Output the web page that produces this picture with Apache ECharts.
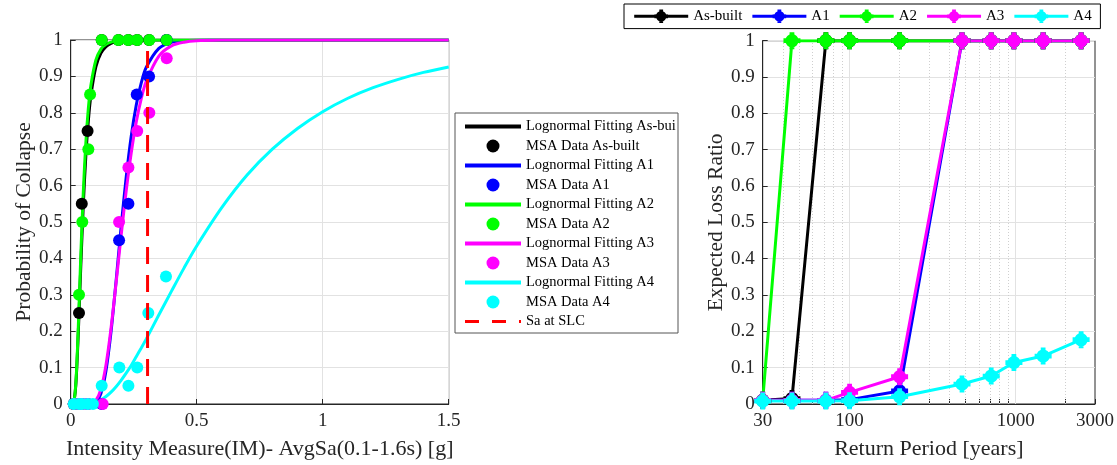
<!DOCTYPE html>
<html>
<head>
<meta charset="utf-8">
<script src="https://cdn.jsdelivr.net/npm/echarts@6/dist/echarts.min.js"></script>
<style>
  html, body { margin: 0; padding: 0; background: #fff; }
  #chart { width: 1117px; height: 465px; }
</style>
</head>
<body>
<div id="chart"></div>
<script>
// ---- Fragility curves (left panel) ----
const fitIM = [0, 0.01, 0.02, 0.03, 0.04, 0.05, 0.06, 0.07, 0.08, 0.1, 0.12, 0.14, 0.16, 0.18, 0.2,
  0.22, 0.24, 0.26, 0.28, 0.3, 0.35, 0.4, 0.45, 0.5, 0.6, 0.7, 0.8, 0.9, 1.0, 1.1, 1.2, 1.3, 1.4, 1.5];
const fitAsBuilt = [0, 0.0015, 0.050, 0.194, 0.378, 0.547, 0.681, 0.778, 0.847, 0.927, 0.964, 0.982, 0.991, 0.995, 0.9973,
  0.9985, 0.9992, 0.9995, 0.9997, 0.9998, 1, 1, 1, 1, 1, 1, 1, 1, 1, 1, 1, 1, 1, 1];
const fitA1 = [0, 0, 0, 0, 0, 0, 0, 0.0001, 0.0004, 0.0053, 0.029, 0.091, 0.198, 0.337, 0.486,
  0.622, 0.735, 0.821, 0.882, 0.925, 0.977, 0.9935, 0.9982, 0.9995, 1, 1, 1, 1, 1, 1, 1, 1, 1, 1];
const fitA2 = [0, 0.001, 0.053, 0.209, 0.407, 0.583, 0.717, 0.812, 0.875, 0.945, 0.975, 0.988, 0.994, 0.997, 0.9986,
  0.999, 0.9996, 1, 1, 1, 1, 1, 1, 1, 1, 1, 1, 1, 1, 1, 1, 1, 1, 1];
const fitA3 = [0, 0, 0, 0, 0, 0, 0, 0.0003, 0.0011, 0.0099, 0.041, 0.107, 0.208, 0.332, 0.462,
  0.584, 0.689, 0.774, 0.839, 0.887, 0.956, 0.984, 0.994, 0.9979, 0.9997, 1, 1, 1, 1, 1, 1, 1, 1, 1];
const fitA4 = [0, 0, 0, 0, 0, 0.0002, 0.0005, 0.0011, 0.0021, 0.0057, 0.0118, 0.0208, 0.0327, 0.0476, 0.065,
  0.0848, 0.106, 0.130, 0.154, 0.179, 0.245, 0.310, 0.374, 0.434, 0.540, 0.629, 0.700, 0.757, 0.803, 0.840, 0.869, 0.892, 0.911, 0.926];

// MSA results: intensity level and fraction of collapses
const msaImAsBuilt = [0.012, 0.033, 0.044, 0.067, 0.123, 0.19, 0.229, 0.264, 0.311, 0.38];
const msaPcAsBuilt = [0, 0.25, 0.55, 0.75, 1, 1, 1, 1, 1, 1];
const msaImA1 = [0.012, 0.033, 0.045, 0.068, 0.123, 0.192, 0.229, 0.262, 0.311, 0.381];
const msaPcA1 = [0, 0, 0, 0, 0, 0.45, 0.55, 0.85, 0.9, 1];
const msaImA2 = [0.012, 0.033, 0.046, 0.07, 0.077, 0.123, 0.189, 0.228, 0.264, 0.312, 0.381];
const msaPcA2 = [0, 0.3, 0.5, 0.7, 0.85, 1, 1, 1, 1, 1, 1];
const msaImA3 = [0.012, 0.033, 0.045, 0.068, 0.127, 0.192, 0.229, 0.264, 0.312, 0.381];
const msaPcA3 = [0, 0, 0, 0, 0, 0.5, 0.65, 0.75, 0.8, 0.95];
const msaImA4 = [0.012, 0.033, 0.045, 0.068, 0.088, 0.123, 0.193, 0.229, 0.264, 0.308, 0.378];
const msaPcA4 = [0, 0, 0, 0, 0, 0.05, 0.1, 0.05, 0.1, 0.25, 0.35];

const saSLC = 0.305;

// ---- Loss curves (right panel) ----
const returnPeriods = [30, 45, 72, 100, 200, 475, 712, 975, 1462, 2475];
const elrAsBuilt = [0.01, 0.015, 1, 1, 1, 1, 1, 1, 1, 1];
const elrA1 = [0.01, 0.01, 0.01, 0.012, 0.036, 1, 1, 1, 1, 1];
const elrA2 = [0.01, 1, 1, 1, 1, 1, 1, 1, 1, 1];
const elrA3 = [0.01, 0.01, 0.01, 0.032, 0.075, 1, 1, 1, 1, 1];
const elrA4 = [0.008, 0.008, 0.008, 0.009, 0.02, 0.055, 0.077, 0.114, 0.132, 0.177];

const rpTickLabels = [30, 100, 1000, 3000];
const rpMajorGrid = [100, 1000];
const rpMinorGrid = [40, 50, 60, 70, 80, 90, 200, 300, 400, 500, 600, 700, 800, 900, 2000];

const FONT = 'Liberation Serif';
const AXIS_COLOR = '#262626';
const GRID_COLOR = '#e2e2e2';

const pairs = (xs, ys) => xs.map((x, i) => [x, ys[i]]);

// filled round "plus" marker for the loss curves
const plusMarker = 'path://M3.6,0H6.4V10H3.6Z M0,3.6H10V6.4H0Z M8.9,5A3.9,3.9 0 1,1 1.1,5A3.9,3.9 0 1,1 8.9,5Z';

function fitSeries(name, ys, color) {
  return {
    name, type: 'line', xAxisIndex: 0, yAxisIndex: 0,
    data: pairs(fitIM, ys), symbol: 'none', smooth: 0.3,
    lineStyle: { color, width: 3 }, itemStyle: { color }, z: 3
  };
}
function msaSeries(name, xs, ys, color) {
  return {
    name, type: 'scatter', xAxisIndex: 0, yAxisIndex: 0,
    data: pairs(xs, ys), symbol: 'circle', symbolSize: 12,
    itemStyle: { color, opacity: 1 }, z: 3
  };
}
function lossSeries(name, ys, color) {
  return {
    name, type: 'line', xAxisIndex: 1, yAxisIndex: 1,
    data: pairs(returnPeriods, ys), symbol: plusMarker, symbolSize: 17,
    lineStyle: { color, width: 3 }, itemStyle: { color }, z: 3
  };
}

function valueAxisCommon() {
  return {
    axisLine: { show: true, lineStyle: { color: AXIS_COLOR, width: 1 } },
    axisTick: { show: true, inside: true, length: 5, lineStyle: { color: AXIS_COLOR } },
    axisLabel: { fontFamily: FONT, fontSize: 19, color: AXIS_COLOR },
    splitLine: { show: true, lineStyle: { color: GRID_COLOR, width: 1 } },
    nameLocation: 'middle',
    nameTextStyle: { fontFamily: FONT, fontSize: 22, color: AXIS_COLOR }
  };
}

// legend entries for plain lines: hide the marker drawn in the icon
const lineOnly = (name, lineStyle) => ({ name, itemStyle: { opacity: 0 }, lineStyle: Object.assign({ width: 4 }, lineStyle || {}) });

const chart = echarts.init(document.getElementById('chart'), null, { renderer: 'canvas' });

const option = {
  backgroundColor: '#ffffff',
  animation: false,
  grid: [
    { left: 70.7, top: 40, width: 378, height: 366.7, show: true, borderColor: AXIS_COLOR, borderWidth: 1, backgroundColor: '#fff' },
    { left: 762.7, top: 40.7, width: 334, height: 366, show: true, borderColor: AXIS_COLOR, borderWidth: 1, backgroundColor: '#fff' }
  ],
  xAxis: [
    Object.assign(valueAxisCommon(), {
      type: 'value', gridIndex: 0, min: 0, max: 1.5, interval: 0.5,
      name: 'Intensity Measure(IM)- AvgSa(0.1-1.6s) [g]', nameGap: 34
    }),
    Object.assign(valueAxisCommon(), {
      type: 'log', logBase: 10, gridIndex: 1, min: 30, max: 3000,
      name: 'Return Period [years]', nameGap: 34,
      axisLabel: {
        fontFamily: FONT, fontSize: 19, color: AXIS_COLOR, customValues: rpTickLabels,
        showMinLabel: true, showMaxLabel: true, formatter: v => String(Math.round(v))
      },
      axisTick: { show: true, inside: true, length: 5, lineStyle: { color: AXIS_COLOR }, customValues: rpTickLabels.concat(rpMinorGrid) },
      splitLine: { show: false }
    })
  ],
  yAxis: [
    Object.assign(valueAxisCommon(), {
      type: 'value', gridIndex: 0, min: 0, max: 1, interval: 0.1,
      name: 'Probability of Collapse', nameGap: 32,
      nameTextStyle: { fontFamily: FONT, fontSize: 21.5, color: AXIS_COLOR }
    }),
    Object.assign(valueAxisCommon(), {
      type: 'value', gridIndex: 1, min: 0, max: 1, interval: 0.1,
      name: 'Expected Loss Ratio', nameGap: 27,
      nameTextStyle: { fontFamily: FONT, fontSize: 21.5, color: AXIS_COLOR }
    })
  ],
  legend: [
    {
      data: [lineOnly('Lognormal Fitting As-built'), 'MSA Data As-built', lineOnly('Lognormal Fitting A1'), 'MSA Data A1',
        lineOnly('Lognormal Fitting A2'), 'MSA Data A2', lineOnly('Lognormal Fitting A3'), 'MSA Data A3',
        lineOnly('Lognormal Fitting A4'), 'MSA Data A4', lineOnly('Sa at SLC', { width: 3, type: [14, 13] })],
      orient: 'vertical', left: 455, top: 113,
      itemWidth: 56, itemHeight: 13, itemGap: 4.5,
      padding: [6, 0, 4, 8], borderColor: '#555', borderWidth: 1, backgroundColor: '#fff',
      selectedMode: false,
      textStyle: { fontFamily: FONT, fontSize: 14.5, lineHeight: 14.5, color: '#000', width: 152, overflow: 'truncate', ellipsis: '' }
    },
    {
      data: ['As-built', 'A1', 'A2', 'A3', 'A4'],
      orient: 'horizontal', left: 624, top: 4,
      itemWidth: 54, itemHeight: 17, itemGap: 8.5,
      padding: [4.8, 8.7, 4.8, 8.7], borderColor: '#000', borderWidth: 1, backgroundColor: '#fff',
      selectedMode: false,
      lineStyle: { width: 3 },
      textStyle: { fontFamily: FONT, fontSize: 15, color: '#000' }
    }
  ],
  series: [
    fitSeries('Lognormal Fitting As-built', fitAsBuilt, '#000000'),
    msaSeries('MSA Data As-built', msaImAsBuilt, msaPcAsBuilt, '#000000'),
    fitSeries('Lognormal Fitting A1', fitA1, '#0000ff'),
    msaSeries('MSA Data A1', msaImA1, msaPcA1, '#0000ff'),
    fitSeries('Lognormal Fitting A2', fitA2, '#00ff00'),
    msaSeries('MSA Data A2', msaImA2, msaPcA2, '#00ff00'),
    fitSeries('Lognormal Fitting A3', fitA3, '#ff00ff'),
    msaSeries('MSA Data A3', msaImA3, msaPcA3, '#ff00ff'),
    fitSeries('Lognormal Fitting A4', fitA4, '#00ffff'),
    msaSeries('MSA Data A4', msaImA4, msaPcA4, '#00ffff'),
    {
      name: 'Sa at SLC', type: 'line', xAxisIndex: 0, yAxisIndex: 0,
      data: [[saSLC, 0], [saSLC, 1]], symbol: 'none',
      lineStyle: { color: '#ff0000', width: 3, type: [17, 11] }, itemStyle: { color: '#ff0000' }, z: 4
    },
    // log-axis grid lines of the right panel
    {
      name: 'rp-grid', type: 'line', xAxisIndex: 1, yAxisIndex: 1, data: [], z: 1, silent: true,
      markLine: {
        silent: true, symbol: 'none', z: 1, animation: false,
        label: { show: false },
        data: rpMajorGrid.map(v => ({ xAxis: v, lineStyle: { color: GRID_COLOR, width: 1, type: 'solid' } }))
          .concat(rpMinorGrid.map(v => ({ xAxis: v, lineStyle: { color: '#cfcfcf', width: 1, type: [1, 2] } })))
      }
    },
    lossSeries('As-built', elrAsBuilt, '#000000'),
    lossSeries('A1', elrA1, '#0000ff'),
    lossSeries('A2', elrA2, '#00ff00'),
    lossSeries('A3', elrA3, '#ff00ff'),
    lossSeries('A4', elrA4, '#00ffff')
  ]
};

chart.setOption(option);
</script>
</body>
</html>
